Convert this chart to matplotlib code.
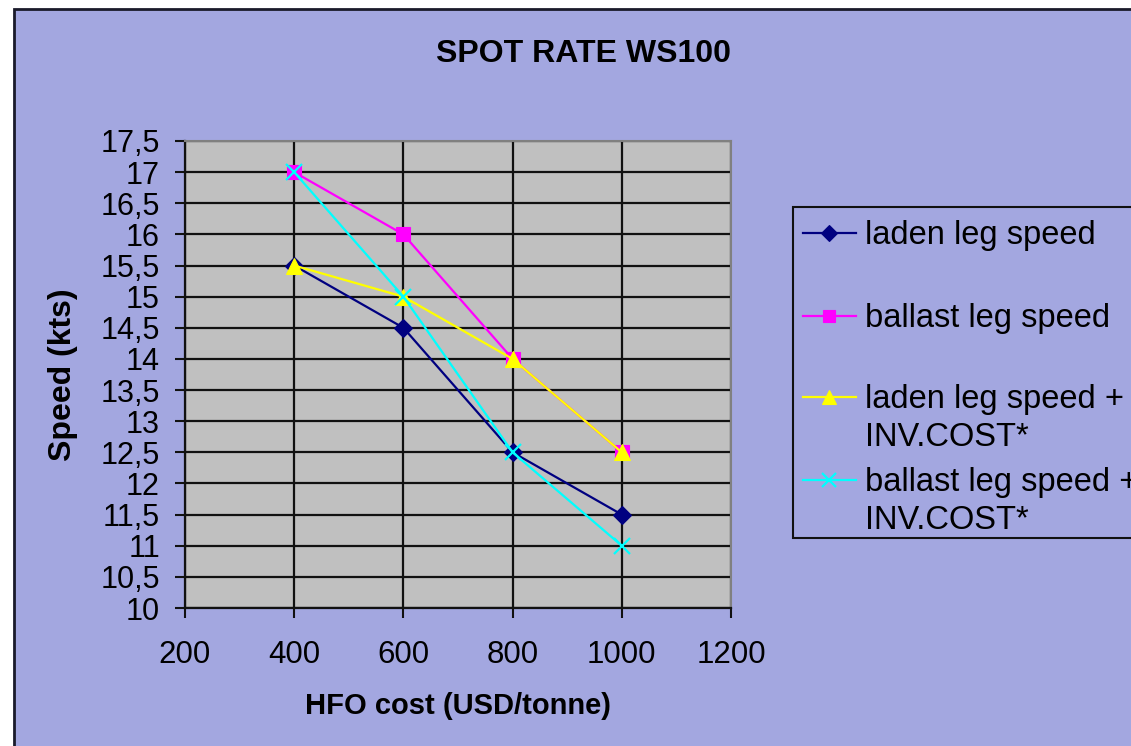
import matplotlib
matplotlib.use("Agg")
import matplotlib.pyplot as plt
from matplotlib.lines import Line2D
from matplotlib.patches import Rectangle

plt.rcParams["font.family"] = ["Liberation Sans", "DejaVu Sans"]

# data
hfo_cost = [400, 600, 800, 1000]
laden = [15.5, 14.5, 12.5, 11.5]
ballast = [17, 16, 14, 12.5]
laden_inv = [15.5, 15, 14, 12.5]
ballast_inv = [17, 15, 12.5, 11]

labels = ["laden leg speed", "ballast leg speed",
          "laden leg speed +\nINV.COST*", "ballast leg speed +\nINV.COST*"]
colors = ["#000080", "#FF00FF", "#FFFF00", "#00FFFF"]
markers = ["D", "s", "^", "x"]
msizes = [9, 10, 11, 11]

xticks = [200, 400, 600, 800, 1000, 1200]
yticks = [10, 10.5, 11, 11.5, 12, 12.5, 13, 13.5, 14, 14.5, 15, 15.5, 16, 16.5, 17, 17.5]

W, H = 1131, 746
bg = "#A3A7E0"

fig = plt.figure(figsize=(W / 100, H / 100), dpi=100)
fig.patch.set_facecolor("white")


def fx(px):
    return px / W


def fy(py):
    return 1 - py / H


# outer chart area with border (runs off right and bottom)
fig.patches.append(Rectangle((fx(14), fy(760)), fx(1140) - fx(14), fy(9) - fy(760),
                             transform=fig.transFigure, facecolor=bg,
                             edgecolor="#1a1a2a", linewidth=2, zorder=-2))

ax = fig.add_axes([fx(185), fy(608), fx(731) - fx(185), fy(141) - fy(608)])
ax.set_zorder(1)
ax.set_facecolor("#C0C0C0")

series = [laden, ballast, laden_inv, ballast_inv]
for vals, c, m, ms in zip(series, colors, markers, msizes):
    ax.plot(hfo_cost, vals, color=c, marker=m, markersize=ms, linewidth=1.6,
            markeredgewidth=1.6 if m == "x" else 0.8, markeredgecolor=c, zorder=3)

ax.set_xlim(200, 1200)
ax.set_ylim(10, 17.5)
ax.set_xticks(xticks)
ax.set_yticks(yticks)
ax.set_yticklabels([f"{v:g}".replace(".", ",") for v in yticks])
ax.grid(True, color="#111111", linewidth=1.6)
ax.set_axisbelow(True)
ax.tick_params(axis="both", direction="out", length=7, width=1.5, color="#111111")
ax.tick_params(axis="y", labelsize=22, pad=11)
ax.tick_params(axis="x", labelsize=22.5, pad=16)
for s in ["left", "bottom"]:
    ax.spines[s].set_color("#111111")
    ax.spines[s].set_linewidth(1.6)
for s in ["top", "right"]:
    ax.spines[s].set_color("#808080")
    ax.spines[s].set_linewidth(1.5)

ax.set_xlabel("HFO cost (USD/tonne)", fontsize=21, fontweight="bold", labelpad=16)
ax.set_ylabel("Speed (kts)", fontsize=23, fontweight="bold", labelpad=16)

fig.text(fx(584), fy(54), "SPOT RATE WS100", fontsize=23, fontweight="bold",
         ha="center", va="center")

# legend box drawn like the spreadsheet one (runs off right edge)
fig.patches.append(Rectangle((fx(793), fy(538)), fx(1145) - fx(793), fy(207) - fy(538),
                             transform=fig.transFigure, facecolor=bg,
                             edgecolor="#111111", linewidth=1.5, zorder=-1))
row_y = [233, 316, 397, 480]
for lab, c, m, ms, ry in zip(labels, colors, markers, msizes, row_y):
    fig.add_artist(Line2D([fx(803), fx(856)], [fy(ry), fy(ry)], transform=fig.transFigure,
                          color=c, linewidth=1.6, zorder=2))
    fig.add_artist(Line2D([fx(829)], [fy(ry)], transform=fig.transFigure, color=c,
                          marker=m, markersize=ms - 1, markeredgecolor=c,
                          markeredgewidth=1.6 if m == "x" else 0.8, zorder=2))
    fig.text(fx(865), fy(ry - 13), lab, fontsize=23.5, ha="left", va="top",
             linespacing=1.3, zorder=3)

fig.savefig("out.png", dpi=100)
